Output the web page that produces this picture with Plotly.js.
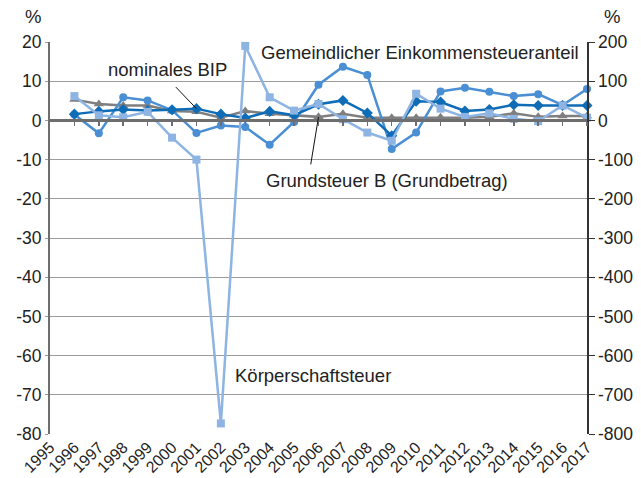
<!DOCTYPE html>
<html>
<head>
<meta charset="utf-8">
<script src="https://cdn.plot.ly/plotly-3.0.1.min.js"></script>
<style>
  html, body { margin: 0; padding: 0; background: #fff; }
  #chart { width: 641px; height: 478px; }
</style>
</head>
<body>
<div id="chart"></div>
<script>
// ---- Data (growth rates, %) ----
const years = [1996, 1997, 1998, 1999, 2000, 2001, 2002, 2003, 2004, 2005, 2006,
               2007, 2008, 2009, 2010, 2011, 2012, 2013, 2014, 2015, 2016, 2017];

// left axis (%)
const nominalesBIP = [1.6, 2.3, 2.8, 2.5, 2.7, 3.0, 1.6, 0.6, 2.3, 1.3, 4.1,
                      5.1, 1.9, -3.9, 4.9, 4.7, 2.4, 2.8, 4.0, 3.8, 3.8, 3.8];
const gemeindlicherESt = [1.5, -3.3, 5.9, 5.1, 2.6, -3.2, -1.3, -1.7, -6.2, -0.4, 9.1,
                          13.7, 11.6, -7.3, -3.1, 7.4, 8.3, 7.3, 6.2, 6.7, 3.9, 8.0];
const grundsteuerB = [5.3, 4.2, 3.8, 3.8, 2.4, 2.2, 0.7, 2.4, 1.7, 1.3, 0.9,
                      1.7, 0.7, 0.7, 0.7, 0.8, 0.7, 0.9, 1.8, 0.9, 1.1, 1.1];
// right axis (%)
const koerperschaftsteuer = [62, 13, 8, 22, -44, -100, -773, 190, 59, 25, 42,
                             3, -31, -52, 68, 30, 9, 18, 4, -2, 38, 7];

// axis labels
const xTickYears = [1995, 1996, 1997, 1998, 1999, 2000, 2001, 2002, 2003, 2004, 2005, 2006,
                    2007, 2008, 2009, 2010, 2011, 2012, 2013, 2014, 2015, 2016, 2017];
const xTickText = xTickYears.map(String);
const leftTicks = [20, 10, 0, -10, -20, -30, -40, -50, -60, -70, -80];
const leftTickText = ["20", "10", "0", "-10", "-20", "-30", "-40", "-50", "-60", "-70", "-80"];
const rightTicks = [200, 100, 0, -100, -200, -300, -400, -500, -600, -700, -800];
const rightTickText = ["200", "100", "0", "-100", "-200", "-300", "-400", "-500", "-600", "-700", "-800"];

const FONT = "Liberation Sans, Arial, Helvetica, sans-serif";
const cGray = "#7f7f7f", cLight = "#8db4e2", cMed = "#4a8fd3", cDark = "#0f6cb6";

const traces = [
  { x: years, y: grundsteuerB, name: "Grundsteuer B (Grundbetrag)", mode: "lines+markers",
    line: { color: cGray, width: 2.5 }, marker: { symbol: "triangle-up", size: 9, color: cGray },
    cliponaxis: false },
  { x: years, y: koerperschaftsteuer, name: "Körperschaftsteuer", yaxis: "y2", mode: "lines+markers",
    line: { color: cLight, width: 2.5 }, marker: { symbol: "square", size: 8, color: cLight },
    cliponaxis: false },
  { x: years, y: gemeindlicherESt, name: "Gemeindlicher Einkommensteueranteil", mode: "lines+markers",
    line: { color: cMed, width: 2.5 }, marker: { symbol: "circle", size: 8, color: cMed },
    cliponaxis: false },
  { x: years, y: nominalesBIP, name: "nominales BIP", mode: "lines+markers",
    line: { color: cDark, width: 2.5 }, marker: { symbol: "diamond", size: 8.5, color: cDark },
    cliponaxis: false },
  // helper trace so the zero-line category axis is drawn
  { x: [1995], y: [null], xaxis: "x2", yaxis: "y", mode: "lines", showlegend: false, hoverinfo: "skip" }
];

const annFont = { family: FONT, size: 18.5, color: "#222" };

const layout = {
  width: 641, height: 478,
  margin: { l: 50, r: 54, t: 42, b: 44 },
  paper_bgcolor: "#fff", plot_bgcolor: "#fff",
  showlegend: false,
  font: { family: FONT, size: 17, color: "#222" },
  xaxis: {
    range: [1995, 2017], tickmode: "array", tickvals: xTickYears, ticktext: xTickText,
    tickangle: -45, tickfont: { size: 16, color: "#222" },
    showgrid: false, zeroline: false, showline: false, ticks: ""
  },
  xaxis2: {
    overlaying: "x", range: [1995, 2017], anchor: "free", position: 0.8,
    tickmode: "array", tickvals: years, showticklabels: false,
    ticks: "outside", ticklen: 4, tickcolor: "#6e6e6e", tickwidth: 1.5,
    showline: true, linecolor: "#6e6e6e", linewidth: 2.5, showgrid: false, zeroline: false
  },
  yaxis: {
    range: [-80, 20], tickmode: "array", tickvals: leftTicks, ticktext: leftTickText,
    tickfont: { size: 17.5, color: "#222" },
    showgrid: true, gridcolor: "#9c9c9c", gridwidth: 1,
    zeroline: false, showline: true, linecolor: "#6e6e6e", linewidth: 2,
    ticks: "outside", ticklen: 3, tickcolor: "#9c9c9c"
  },
  yaxis2: {
    overlaying: "y", side: "right", range: [-800, 200],
    tickmode: "array", tickvals: rightTicks, ticktext: rightTickText,
    tickfont: { size: 17.5, color: "#222" },
    showgrid: false, zeroline: false, showline: true, linecolor: "#333", linewidth: 1.5,
    ticks: "outside", ticklen: 6, tickcolor: "#333"
  },
  annotations: [
    { text: "%", xref: "paper", yref: "paper", x: -0.032, y: 1.064, xanchor: "center", yanchor: "middle",
      showarrow: false, font: annFont },
    { text: "%", xref: "paper", yref: "paper", x: 1.047, y: 1.064, xanchor: "center", yanchor: "middle",
      showarrow: false, font: annFont },
    { text: "Gemeindlicher Einkommensteueranteil", xref: "x", yref: "y", x: 2010.14, y: 17.3,
      xanchor: "center", yanchor: "middle", showarrow: false, font: annFont },
    { text: "nominales BIP", xref: "x", yref: "y", x: 1999.8, y: 13.0,
      xanchor: "center", yanchor: "middle", showarrow: false, font: annFont },
    { text: "", xref: "x", yref: "y", x: 2001, y: 3.0, ax: -22, ay: -23,
      showarrow: true, arrowhead: 0, arrowwidth: 1, arrowcolor: "#111", standoff: 0 },
    { text: "Grundsteuer B (Grundbetrag)", xref: "x", yref: "y", x: 2008.8, y: -15.3,
      xanchor: "center", yanchor: "middle", showarrow: false, font: annFont },
    { text: "", xref: "x", yref: "y", x: 2006, y: 0.9, ax: -8, ay: 49,
      showarrow: true, arrowhead: 0, arrowwidth: 1, arrowcolor: "#111", standoff: 0 },
    { text: "Körperschaftsteuer", xref: "x", yref: "y", x: 2005.77, y: -65.0,
      xanchor: "center", yanchor: "middle", showarrow: false, font: annFont }
  ]
};

Plotly.newPlot("chart", traces, layout, { staticPlot: true, displayModeBar: false });
</script>
</body>
</html>
